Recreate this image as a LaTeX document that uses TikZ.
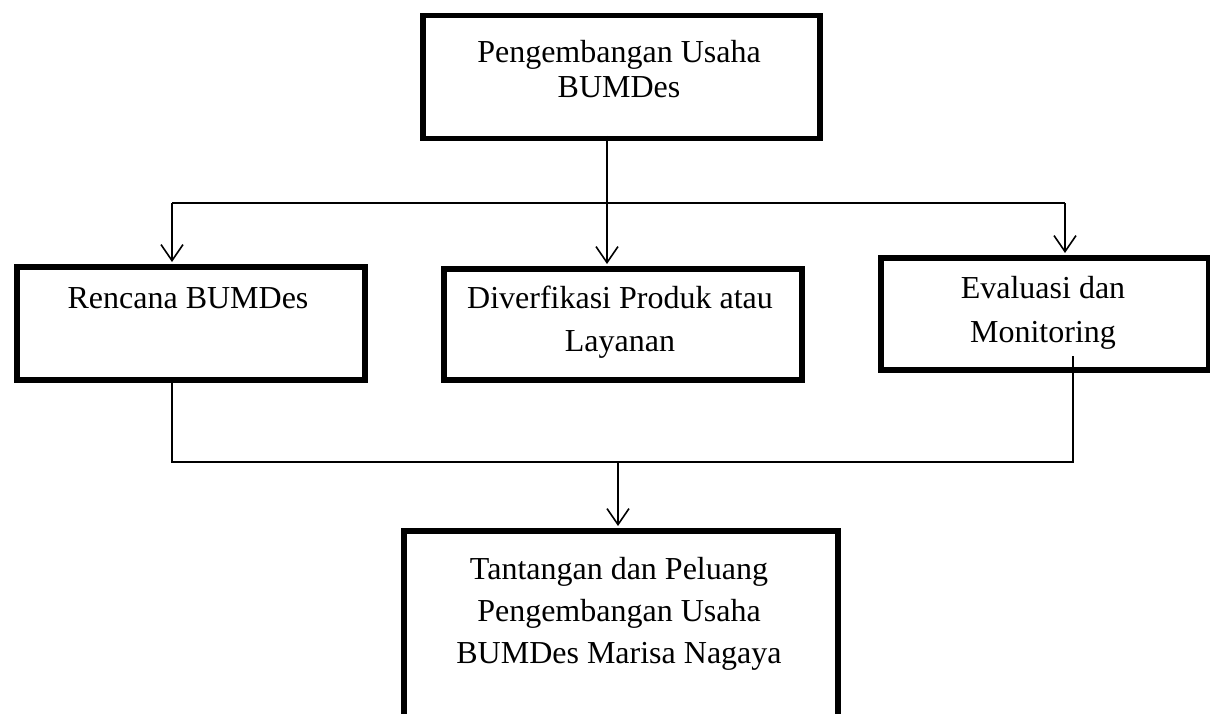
\documentclass[tikz,border=0pt]{standalone}
\usepackage{fontspec}
\setmainfont{Liberation Serif}
\usetikzlibrary{arrows.meta}
\begin{document}
\begin{tikzpicture}[x=1pt,y=-1pt,
  boxshape/.style={draw=black,line width=5.5pt,rectangle,minimum width=#1,inner sep=0pt,anchor=north west},
  txt/.style={font=\fontsize{32}{32}\selectfont,anchor=base,inner sep=0pt},
  conn/.style={draw=black,line width=1.6pt},
  arr/.style={conn,-{Straight Barb[length=16pt,width=22pt,line width=1.6pt]}}]
\clip (0,0) rectangle (1210,714);
\fill[white] (0,0) rectangle (1210,714);
% boxes
\node[boxshape=397pt,minimum height=123pt] (top) at (420,13) {};
\node[boxshape=348pt,minimum height=113pt] (renc) at (14,264) {};
\node[boxshape=358pt,minimum height=111pt] (div) at (441,266) {};
\node[boxshape=328pt,minimum height=112pt] (eval) at (878,255) {};
\node[boxshape=434pt,minimum height=220pt] (tant) at (401,528) {};
% texts
\node[txt] (t1) at (619,63) {Pengembangan Usaha};
\node[txt] (t2) at (619,98) {BUMDes};
\node[txt] (r1) at (188,308) {Rencana BUMDes};
\node[txt] (d1) at (620,308) {Diverfikasi Produk atau};
\node[txt] (d2) at (620,351) {Layanan};
\node[txt] (e1) at (1043,298) {Evaluasi dan};
\node[txt] (e2) at (1043,342) {Monitoring};
\node[txt] (b1) at (619,579) {Tantangan dan Peluang};
\node[txt] (b2) at (619,621) {Pengembangan Usaha};
\node[txt] (b3) at (619,663) {BUMDes Marisa Nagaya};
% connector coordinates
\coordinate (topout) at (607,136);
\coordinate (divin) at (607,264);
\coordinate (hl) at (172,203);
\coordinate (hr) at (1065,203);
\coordinate (rencin) at (172,262);
\coordinate (evalin) at (1065,253);
\coordinate (rencout) at (172,377);
\coordinate (bl) at (172,462);
\coordinate (br) at (1073,462);
\coordinate (evalout) at (1073,356);
\coordinate (bm) at (618,462);
\coordinate (tantin) at (618,526);
% connectors
\draw[arr] (topout) -- (divin);
\draw[conn] (hl) -- (hr);
\draw[arr] (hl) -- (rencin);
\draw[arr] (hr) -- (evalin);
\draw[conn] (rencout) -- (bl) -- (br) -- (evalout);
\draw[arr] (bm) -- (tantin);
\end{tikzpicture}
\end{document}
